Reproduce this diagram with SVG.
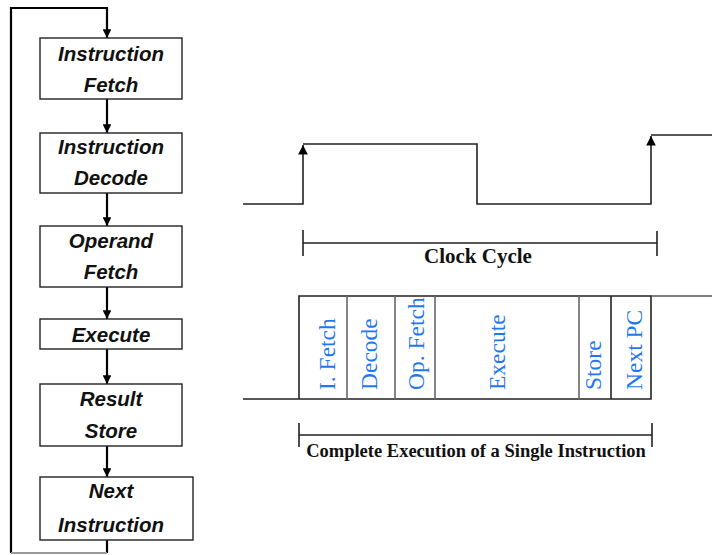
<svg xmlns="http://www.w3.org/2000/svg" width="712" height="555" viewBox="0 0 712 555">
  <style>
    .box { fill: #fff; stroke: #222; stroke-width: 1.4; }
    .lbl { font-family: "Liberation Sans", Arial, sans-serif; font-weight: bold; font-style: italic; font-size: 20.5px; fill: #111; text-anchor: middle; }
    .flow { fill: none; stroke: #000; stroke-width: 2.2; }
    .wave { fill: none; stroke: #222; stroke-width: 1.6; }
    .div { stroke: #666; stroke-width: 1.6; }
    .phase { font-family: "Liberation Serif", "Times New Roman", serif; font-size: 23.5px; fill: #1f78f0; }
    .cap { font-family: "Liberation Serif", "Times New Roman", serif; font-weight: bold; fill: #111; text-anchor: middle; }
  </style>
  <defs>
    <marker id="ah" viewBox="0 0 10 10" refX="10" refY="5" markerWidth="4" markerHeight="4" orient="auto" markerUnits="strokeWidth">
      <path d="M0,0 L10,5 L0,10 z" fill="#000"/>
    </marker>
    <marker id="ahw" viewBox="0 0 10 10" refX="10" refY="5" markerWidth="6" markerHeight="6" orient="auto" markerUnits="strokeWidth">
      <path d="M0,0 L10,5 L0,10 z" fill="#000"/>
    </marker>
  </defs>

  <!-- flowchart connectors -->
  <g id="connectors">
    <path class="flow" d="M11,553 V8 H107 V38" marker-end="url(#ah)"/>
    <path class="flow" d="M107,99 V133" marker-end="url(#ah)"/>
    <path class="flow" d="M107,193 V226" marker-end="url(#ah)"/>
    <path class="flow" d="M107,287 V319" marker-end="url(#ah)"/>
    <path class="flow" d="M107,349 V384" marker-end="url(#ah)"/>
    <path class="flow" d="M107,446 V477" marker-end="url(#ah)"/>
    <path class="flow" d="M107,540 V553"/>
    <path d="M107,553 H11" fill="none" stroke="#999" stroke-width="2"/>
  </g>

  <!-- flowchart stages -->
  <g id="fetch">
    <rect class="box" x="40" y="38" width="142" height="61"/>
    <text class="lbl" x="111" y="61">Instruction</text>
    <text class="lbl" x="111" y="92">Fetch</text>
  </g>
  <g id="decode">
    <rect class="box" x="40" y="133" width="142" height="60"/>
    <text class="lbl" x="111" y="154">Instruction</text>
    <text class="lbl" x="111" y="185">Decode</text>
  </g>
  <g id="operand">
    <rect class="box" x="40" y="226" width="142" height="61"/>
    <text class="lbl" x="111" y="248">Operand</text>
    <text class="lbl" x="111" y="279">Fetch</text>
  </g>
  <g id="execute">
    <rect class="box" x="40" y="319" width="142" height="30"/>
    <text class="lbl" x="111" y="342">Execute</text>
  </g>
  <g id="store">
    <rect class="box" x="40" y="384" width="142" height="62"/>
    <text class="lbl" x="111" y="406">Result</text>
    <text class="lbl" x="111" y="438">Store</text>
  </g>
  <g id="next">
    <rect class="box" x="40" y="477" width="153" height="63"/>
    <text class="lbl" x="111" y="498">Next</text>
    <text class="lbl" x="111" y="532">Instruction</text>
  </g>

  <!-- clock waveform -->
  <g id="clock">
    <path class="wave" d="M243,204 H303 V145" marker-end="url(#ahw)"/>
    <path class="wave" d="M303,144 H477 V204 H651 V136" marker-end="url(#ahw)"/>
    <path class="wave" d="M651,135 H712"/>
  </g>

  <!-- clock cycle span -->
  <g id="clock-cycle">
    <path class="wave" d="M303,230 V256 M303,243 H657 M657,231 V256"/>
    <text class="cap" x="478" y="263" font-size="21px">Clock Cycle</text>
  </g>

  <!-- single instruction phases -->
  <g id="phases">
    <path class="wave" d="M243,399 H651 V296 H299 V399"/>
    <path d="M651,296 H712" stroke="#555" stroke-width="1.6"/>
    <line class="div" x1="347" y1="296" x2="347" y2="399"/>
    <line class="div" x1="395" y1="296" x2="395" y2="399"/>
    <line class="div" x1="435" y1="296" x2="435" y2="399"/>
    <line class="div" x1="579" y1="296" x2="579" y2="399"/>
    <line x1="611" y1="296" x2="611" y2="399" stroke="#222" stroke-width="1.6"/>
    <text class="phase" transform="translate(335,390) rotate(-90)">I. Fetch</text>
    <text class="phase" transform="translate(377,390) rotate(-90)">Decode</text>
    <text class="phase" transform="translate(424,390) rotate(-90)">Op. Fetch</text>
    <text class="phase" transform="translate(505,390) rotate(-90)">Execute</text>
    <text class="phase" transform="translate(601,390) rotate(-90)">Store</text>
    <text class="phase" transform="translate(642,390) rotate(-90)">Next PC</text>
  </g>

  <!-- complete execution span -->
  <g id="execution-span">
    <path class="wave" d="M299,423 V447 M299,435 H652 M652,423 V447"/>
    <text class="cap" x="476" y="457" font-size="18.5px">Complete Execution of a Single Instruction</text>
  </g>
</svg>
